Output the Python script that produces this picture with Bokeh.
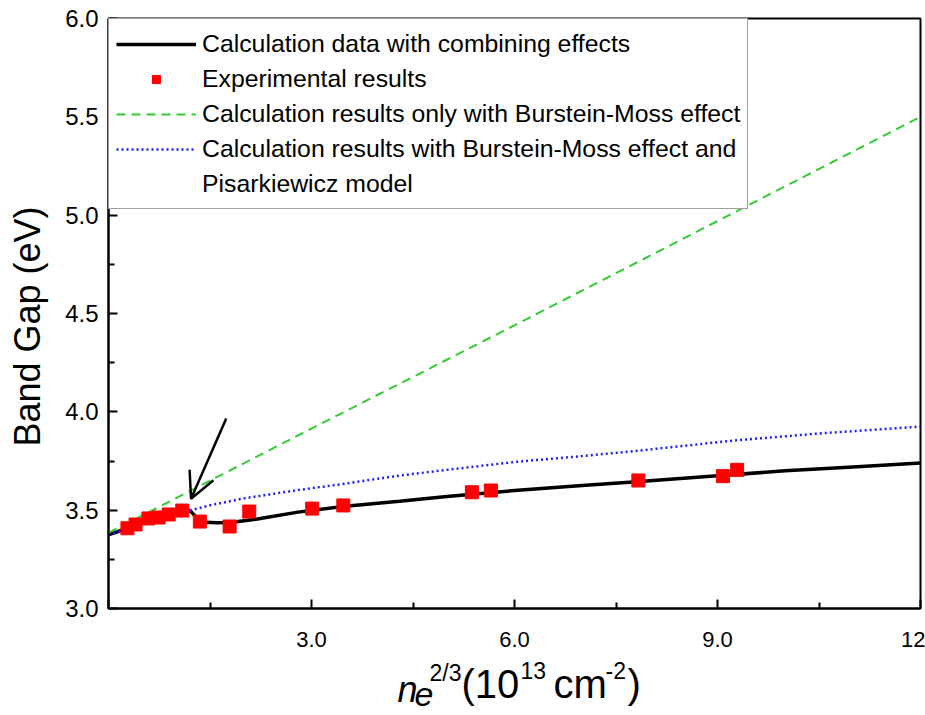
import math
from bokeh.plotting import figure
from bokeh.layouts import row, column
from bokeh.models import (Range1d, FixedTicker, PrintfTickFormatter, Legend, LegendItem,
                          Arrow, OpenHead)
from bokeh.core.properties import value
from bokeh.embed import file_html
from bokeh.resources import INLINE

# ---------------- data ----------------
exp_x = [0.28, 0.40, 0.59, 0.74, 0.89, 1.09, 1.35, 1.79, 2.08, 3.01, 3.47, 5.37, 5.65, 7.83, 9.08, 9.29]
exp_y = [3.408, 3.427, 3.458, 3.463, 3.478, 3.498, 3.442, 3.417, 3.493, 3.508, 3.524, 3.591, 3.600, 3.651, 3.673, 3.705]

comb_x = [0.0, 0.3, 0.6, 0.9, 1.2, 1.36, 1.6, 1.8, 2.2, 2.8, 3.5, 4.3, 5.0, 6.0, 7.0, 7.8, 9.0, 10.0, 11.0, 12.0]
comb_y = [3.375, 3.41, 3.445, 3.475, 3.50, 3.44, 3.436, 3.437, 3.455, 3.49, 3.52, 3.545, 3.57, 3.60, 3.625, 3.645, 3.675, 3.70, 3.72, 3.74]

bm_x = [0.0, 3.0, 6.0, 9.0, 12.0]
bm_y = [3.385, 3.915, 4.44, 4.97, 5.50]

pis_x = [0.0, 0.5, 1.0, 1.5, 2.0, 2.84, 3.5, 4.3, 5.0, 6.0, 7.0, 7.76, 9.24, 10.5, 12.0]
pis_y = [3.375, 3.43, 3.48, 3.525, 3.56, 3.604, 3.635, 3.676, 3.705, 3.745, 3.775, 3.80, 3.854, 3.89, 3.925]

x_major = [0, 3, 6, 9, 12]
x_minor = [1.5, 4.5, 7.5, 10.5]
x_labels = {0: "", 3: "3.0", 6: "6.0", 9: "9.0", 12: "12"}
y_major = [3.0, 3.5, 4.0, 4.5, 5.0, 5.5, 6.0]
y_minor = [3.25, 3.75, 4.25, 4.75, 5.25, 5.75]

legend_labels = ["Calculation data with combining effects",
                 "Experimental results",
                 "Calculation results only with Burstein-Moss effect",
                 "Calculation results with Burstein-Moss effect and",
                 "Pisarkiewicz model"]

y_title = "Band Gap (eV)"
x_title_parts = ["n", "e", "2/3", "(10", "13", " cm", "-2", ")"]

arrow_tail = (1.74, 3.966)
arrow_tip = (1.22, 3.558)

FONT = "Liberation Sans"

# ---------------- main figure ----------------
p = figure(width=867, height=658, output_backend="svg", toolbar_location=None, title=None,
           x_range=Range1d(0, 12), y_range=Range1d(3, 6),
           min_border_left=50, min_border_right=5, min_border_top=18, min_border_bottom=50)
p.xgrid.visible = False
p.ygrid.visible = False
p.outline_line_color = "black"
p.outline_line_width = 2
p.background_fill_color = "white"
p.border_fill_color = "white"

for ax in (p.xaxis[0], p.yaxis[0]):
    ax.axis_line_width = 2
    ax.major_tick_line_width = 2
    ax.minor_tick_line_width = 2
    ax.major_tick_in = 9
    ax.major_tick_out = 0
    ax.minor_tick_in = 6
    ax.minor_tick_out = 0
    ax.major_label_text_font = FONT
    ax.major_label_text_color = "black"

p.xaxis[0].ticker = FixedTicker(ticks=x_major, minor_ticks=x_minor)
p.xaxis[0].major_label_overrides = x_labels
p.xaxis[0].major_label_text_font_size = "22px"
p.xaxis[0].major_label_standoff = 23

p.yaxis[0].ticker = FixedTicker(ticks=y_major, minor_ticks=y_minor)
p.yaxis[0].formatter = PrintfTickFormatter(format="%.1f")
p.yaxis[0].major_label_text_font_size = "24px"
p.yaxis[0].major_label_standoff = 10

r_comb = p.line(comb_x, comb_y, line_color="black", line_width=3.5)
r_bm = p.line(bm_x, bm_y, line_color="#33cc33", line_width=2, line_dash="9 6")
r_pis = p.line(pis_x, pis_y, line_color="#1f1fff", line_width=2.5, line_dash="2 3")
r_exp = p.scatter(exp_x, exp_y, marker="square", size=13, fill_color="#ff0000", line_color="#ff0000")
r_dummy = p.line([], [], line_alpha=0)

p.add_layout(Arrow(end=OpenHead(size=26, line_width=2.5, line_color="black"),
                   x_start=arrow_tail[0], y_start=arrow_tail[1],
                   x_end=arrow_tip[0], y_end=arrow_tip[1],
                   line_width=2.5, line_color="black"))

legend = Legend(items=[LegendItem(label=legend_labels[0], renderers=[r_comb]),
                       LegendItem(label=legend_labels[1], renderers=[r_exp]),
                       LegendItem(label=legend_labels[2], renderers=[r_bm]),
                       LegendItem(label=legend_labels[3], renderers=[r_pis]),
                       LegendItem(label=legend_labels[4], renderers=[r_dummy])],
                location="top_left", margin=0, padding=7, spacing=0,
                glyph_width=80, label_standoff=6, label_height=35, glyph_height=20,
                label_text_font=FONT, label_text_font_size="24.8px", label_text_color="black",
                border_line_color="#444444", border_line_width=1.5,
                background_fill_alpha=1.0)
p.add_layout(legend)

# ---------------- helper panels for the axis titles ----------------
def blank(w, h, x0, x1, y_bottom, y_top):
    f = figure(width=w, height=h, output_backend="svg", toolbar_location=None, title=None,
               x_range=Range1d(x0, x1), y_range=Range1d(y_bottom, y_top),
               x_axis_type=None, y_axis_type=None,
               min_border_left=0, min_border_right=0, min_border_top=0, min_border_bottom=0)
    f.grid.visible = False
    f.outline_line_color = None
    f.background_fill_color = "white"
    f.border_fill_color = "white"
    return f

# left panel: its frame is aligned with the main frame (page y 18..608), y downward
left = blank(58, 658, 0, 58, 608, 18)
left.text(x=[27], y=[326], text=[y_title], angle=math.pi / 2,
          text_align="center", text_baseline="middle",
          text_font=value(FONT), text_font_size="36px", text_color="black")

# bottom panel: page pixels x 0..925, y 658..715 (y downward)
bottom = blank(925, 57, 0, 925, 715, 658)
title_x = [397, 414, 429, 461, 520, 553, 605, 627]
title_y = [689, 694, 672, 683, 670, 683, 670, 683]
title_size = ["36px", "34px", "23px", "40px", "23px", "40px", "23px", "40px"]
title_style = ["italic", "italic", "normal", "normal", "normal", "normal", "normal", "normal"]
for t, tx, ty, ts, st in zip(x_title_parts, title_x, title_y, title_size, title_style):
    bottom.text(x=[tx], y=[ty], text=[t], text_align="left", text_baseline="middle",
                text_font=value(FONT), text_font_size=ts, text_font_style=st, text_color="black")

layout = column(row(left, p), bottom)
open("out.html", "w").write(file_html(layout, INLINE))
